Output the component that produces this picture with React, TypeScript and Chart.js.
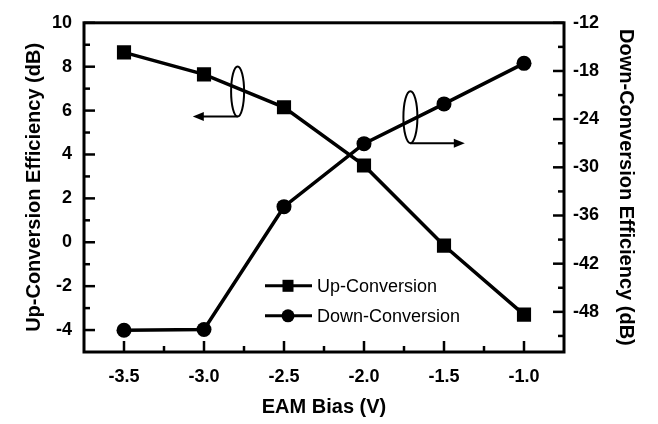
import React, { useEffect, useRef } from "react";
import { Chart, registerables } from "chart.js";

Chart.register(...registerables);

// ---- data ----
const biasV = [-3.5, -3.0, -2.5, -2.0, -1.5, -1.0];
const upConversion = [8.65, 7.65, 6.15, 3.5, -0.15, -3.3];
const downConversion = [-50.3, -50.2, -34.9, -27.05, -22.1, -17.05];

const xMajorTicks = [-3.5, -3.0, -2.5, -2.0, -1.5, -1.0];
const xMinorTicks = [-3.25, -2.75, -2.25, -1.75, -1.25];
const leftMajorTicks = [10, 8, 6, 4, 2, 0, -2, -4];
const leftMinorTicks = [9, 7, 5, 3, 1, -1, -3];
const rightMajorTicks = [-12, -18, -24, -30, -36, -42, -48];
const rightMinorTicks = [-15, -21, -27, -33, -39, -45, -51];

const seriesLabels = ["Up-Conversion", "Down-Conversion"];
const xTitle = "EAM Bias (V)";
const leftTitle = "Up-Conversion Efficiency (dB)";
const rightTitle = "Down-Conversion Efficiency (dB)";

const FONT = "'Liberation Sans', Arial, Helvetica, sans-serif";

const framePlugin = {
  id: "frameAndAnnotations",
  afterDraw(chart: any) {
    const { ctx, chartArea: ca, scales } = chart;
    const x = scales.x;
    const yl = scales.y;
    const yr = scales.y2;
    ctx.save();
    ctx.strokeStyle = "#000";
    ctx.fillStyle = "#000";
    // frame
    ctx.lineWidth = 3;
    ctx.strokeRect(ca.left, ca.top, ca.right - ca.left, ca.bottom - ca.top);
    // inward ticks
    ctx.lineWidth = 2.5;
    const major = 11;
    const minor = 6;
    const line = (x1: number, y1: number, x2: number, y2: number) => {
      ctx.beginPath();
      ctx.moveTo(x1, y1);
      ctx.lineTo(x2, y2);
      ctx.stroke();
    };
    xMajorTicks.forEach((v) => {
      const p = x.getPixelForValue(v);
      line(p, ca.bottom, p, ca.bottom - major);
    });
    xMinorTicks.forEach((v) => {
      const p = x.getPixelForValue(v);
      line(p, ca.bottom, p, ca.bottom - minor);
    });
    leftMajorTicks.forEach((v) => {
      const p = yl.getPixelForValue(v);
      line(ca.left, p, ca.left + major, p);
    });
    leftMinorTicks.forEach((v) => {
      const p = yl.getPixelForValue(v);
      line(ca.left, p, ca.left + minor, p);
    });
    rightMajorTicks.forEach((v) => {
      const p = yr.getPixelForValue(v);
      line(ca.right, p, ca.right - major, p);
    });
    rightMinorTicks.forEach((v) => {
      const p = yr.getPixelForValue(v);
      line(ca.right, p, ca.right - minor, p);
    });

    // annotations: ellipse + arrow
    const arrow = (x1: number, y1: number, x2: number, y2: number) => {
      ctx.lineWidth = 2;
      line(x1, y1, x2 - Math.sign(x2 - x1) * 6, y2);
      const dir = Math.sign(x2 - x1);
      ctx.beginPath();
      ctx.moveTo(x2, y2);
      ctx.lineTo(x2 - dir * 11, y2 - 4.5);
      ctx.lineTo(x2 - dir * 11, y2 + 4.5);
      ctx.closePath();
      ctx.fill();
    };
    const ellipse = (cx: number, cy: number, rx: number, ry: number) => {
      ctx.lineWidth = 2;
      ctx.beginPath();
      ctx.ellipse(cx, cy, rx, ry, 0, 0, Math.PI * 2);
      ctx.stroke();
    };
    {
      const cx = x.getPixelForValue(-2.79);
      const cy = yl.getPixelForValue(6.87);
      const ry = 25;
      ellipse(cx, cy, 6.5, ry);
      arrow(cx, cy + ry, x.getPixelForValue(-3.07), cy + ry);
    }
    {
      const cx = x.getPixelForValue(-1.71);
      const cy = yr.getPixelForValue(-23.75);
      const ry = 26;
      ellipse(cx, cy, 7, ry);
      arrow(cx, cy + ry, x.getPixelForValue(-1.37), cy + ry);
    }

    // legend
    const lx = ca.left + 181;
    const ly = ca.top + 263;
    const rowGap = 30;
    ctx.font = `18px ${FONT}`;
    ctx.textBaseline = "middle";
    ctx.textAlign = "left";
    chart.data.datasets.forEach((ds: any, i: number) => {
      const yy = ly + i * rowGap;
      ctx.lineWidth = 3;
      line(lx, yy, lx + 47, yy);
      const mx = lx + 23;
      if (ds.pointStyle === "rect") {
        ctx.fillRect(mx - 5.5, yy - 6, 11, 12);
      } else {
        ctx.beginPath();
        ctx.arc(mx, yy, 6.5, 0, Math.PI * 2);
        ctx.fill();
      }
      ctx.fillText(ds.label, lx + 52, yy + 1);
    });
    ctx.restore();
  },
};

export default function App() {
  const ref = useRef<HTMLCanvasElement | null>(null);
  useEffect(() => {
    if (!ref.current) return;
    const tickFont = { family: FONT, size: 18, weight: "bold" as const };
    const titleFont = { family: FONT, size: 20, weight: "bold" as const };
    const chart = new Chart(ref.current, {
      type: "line",
      data: {
        datasets: [
          {
            label: seriesLabels[0],
            data: biasV.map((v, i) => ({ x: v, y: upConversion[i] })),
            yAxisID: "y",
            borderColor: "#000",
            backgroundColor: "#000",
            borderWidth: 3.5,
            pointStyle: "rect",
            pointRadius: 10,
            pointBorderWidth: 0,
            pointBackgroundColor: "#000",
            tension: 0,
          },
          {
            label: seriesLabels[1],
            data: biasV.map((v, i) => ({ x: v, y: downConversion[i] })),
            yAxisID: "y2",
            borderColor: "#000",
            backgroundColor: "#000",
            borderWidth: 3.5,
            pointStyle: "circle",
            pointRadius: 7.5,
            pointBorderWidth: 0,
            pointBackgroundColor: "#000",
            tension: 0,
          },
        ],
      },
      options: {
        responsive: false,
        animation: false,
        layout: { padding: { top: 17, left: 0, right: 0, bottom: 0 } },
        plugins: { legend: { display: false }, tooltip: { enabled: false } },
        scales: {
          x: {
            type: "linear",
            position: "bottom",
            min: -3.75,
            max: -0.75,
            afterBuildTicks: (s: any) => {
              s.ticks = xMajorTicks.map((v) => ({ value: v }));
            },
            afterFit: (s: any) => {
              s.height = 72;
            },
            grid: { display: false, drawTicks: false },
            border: { display: false },
            ticks: {
              font: tickFont,
              color: "#000",
              padding: 14,
              maxRotation: 0,
              callback: (v: any) => Number(v).toFixed(1),
            },
            title: {
              display: true,
              text: xTitle,
              font: titleFont,
              color: "#000",
              padding: { top: 0, bottom: 5 },
            },
          },
          y: {
            type: "linear",
            position: "left",
            min: -5,
            max: 10,
            afterBuildTicks: (s: any) => {
              s.ticks = leftMajorTicks.map((v) => ({ value: v }));
            },
            afterFit: (s: any) => {
              s.width = 84;
            },
            grid: { display: false, drawTicks: false },
            border: { display: false },
            ticks: {
              font: tickFont,
              color: "#000",
              padding: 12,
              callback: (v: any) => String(v),
            },
            title: {
              display: true,
              text: leftTitle,
              font: titleFont,
              color: "#000",
              padding: { top: 22, bottom: 0 },
            },
          },
          y2: {
            type: "linear",
            position: "right",
            min: -53,
            max: -12,
            afterBuildTicks: (s: any) => {
              s.ticks = rightMajorTicks.map((v) => ({ value: v }));
            },
            afterFit: (s: any) => {
              s.width = 94;
            },
            grid: { display: false, drawTicks: false },
            border: { display: false },
            ticks: {
              font: tickFont,
              color: "#000",
              padding: 9,
              callback: (v: any) => String(v),
            },
            title: {
              display: true,
              text: rightTitle,
              font: titleFont,
              color: "#000",
              padding: { top: 20, bottom: 0 },
            },
          },
        },
      },
      plugins: [framePlugin],
    });
    return () => chart.destroy();
  }, []);
  return (
    <div style={{ position: "absolute", left: 0, top: 0, width: 658, height: 424, background: "#fff" }}>
      <canvas ref={ref} width={658} height={424} />
    </div>
  );
}
